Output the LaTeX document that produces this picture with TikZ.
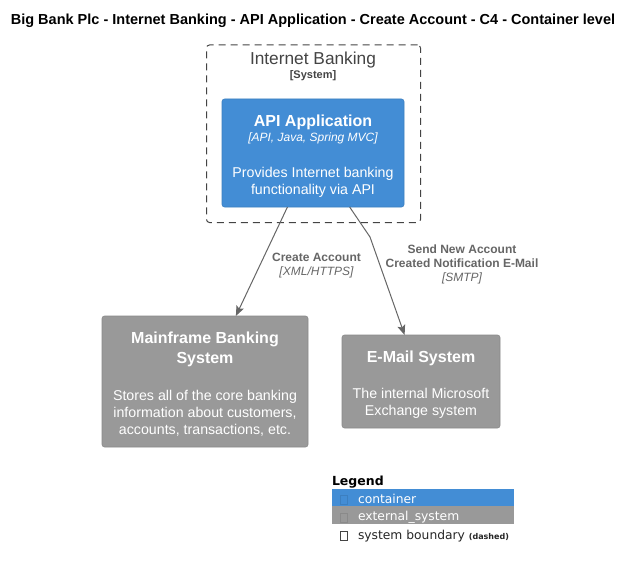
\documentclass[tikz,border=0pt]{standalone}
\usepackage{fontspec}
\setmainfont{Liberation Sans}
\newfontfamily\dejavu{DejaVu Sans}
\usetikzlibrary{arrows.meta}
\definecolor{cblue}{HTML}{438DD5}
\definecolor{cblueb}{HTML}{3C7FC0}
\definecolor{cgray}{HTML}{999999}
\definecolor{cgrayb}{HTML}{8A8A8A}
\definecolor{lgray}{HTML}{666666}
\definecolor{bgray}{HTML}{444444}
\begin{document}
\begin{tikzpicture}[x=1pt,y=-1pt,
  every node/.style={inner sep=0pt, outer sep=0pt},
  contbox/.style={rectangle, rounded corners=2.5pt, fill=cblue, draw=cblueb, line width=0.6pt},
  extbox/.style={rectangle, rounded corners=2.5pt, fill=cgray, draw=cgrayb, line width=0.6pt},
  bound/.style={draw=bgray, line width=1pt, dash pattern=on 7pt off 5pt, rounded corners=3pt},
  boxtitle/.style={anchor=base, text=white, font=\bfseries\fontsize{16pt}{20pt}\selectfont},
  boxtech/.style={anchor=base, text=white, font=\itshape\fontsize{12pt}{14pt}\selectfont},
  boxdesc/.style={anchor=base, text=white, font=\fontsize{14.2pt}{17pt}\selectfont},
  rellbl/.style={anchor=base, text=lgray, font=\bfseries\fontsize{12pt}{14pt}\selectfont},
  reltech/.style={anchor=base, text=lgray, font=\itshape\fontsize{12pt}{14pt}\selectfont},
  conn/.style={draw=lgray, line width=1pt, -{Stealth[length=10pt,width=8pt,inset=2pt]}},
  legtxt/.style={anchor=base west, font=\dejavu\fontsize{12.3pt}{14pt}\selectfont},
  tofu/.style={draw, line width=0.6pt}
]
\useasboundingbox[fill=white] (0,0) rectangle (634,567);

% title
\node[anchor=base, font=\bfseries\fontsize{14.5pt}{16pt}\selectfont] (title) at (313,24.5)
  {Big Bank Plc - Internet Banking - API Application - Create Account - C4 - Container level};

% boundary
\node[bound, minimum width=214pt, minimum height=177.5pt] (bnd) at (313.5,133.75) {};
\node[anchor=base, text=bgray, font=\fontsize{17.3pt}{20pt}\selectfont] (bndT) at (313,64.5) {Internet Banking};
\node[anchor=base, text=bgray, font=\bfseries\fontsize{11pt}{13pt}\selectfont] (bndS) at (313,79) {[System]};

% API application
\node[contbox, minimum width=182pt, minimum height=108pt] (api) at (313,153) {};
\node[boxtitle] (apiT) at (313,126) {API Application};
\node[boxtech] (apiTech) at (313,142) {[API, Java, Spring MVC]};
\node[boxdesc] (apiD1) at (313,177.5) {Provides Internet banking};
\node[boxdesc] (apiD2) at (313,194.5) {functionality via API};

% Mainframe
\node[extbox, minimum width=206pt, minimum height=131pt] (main) at (205,381.5) {};
\node[boxtitle] (mainT1) at (205,343.5) {Mainframe Banking};
\node[boxtitle] (mainT2) at (205,363.5) {System};
\node[boxdesc] (mainD1) at (205,400) {Stores all of the core banking};
\node[boxdesc] (mainD2) at (205,417) {information about customers,};
\node[boxdesc] (mainD3) at (205,434) {accounts, transactions, etc.};

% Email
\node[extbox, minimum width=158pt, minimum height=93pt] (email) at (421,381.5) {};
\node[boxtitle] (emailT) at (421,362) {E-Mail System};
\node[boxdesc] (emailD1) at (421,398.5) {The internal Microsoft};
\node[boxdesc] (emailD2) at (421,415.5) {Exchange system};

% connectors
\coordinate (bend) at (370,237);
\draw[conn] (api) -- (main);
\draw[conn] (api) -- (bend) -- (email);

\node[rellbl] (r1a) at (316.5,261) {Create Account};
\node[reltech] (r1b) at (316.5,275) {[XML/HTTPS]};
\node[rellbl] (r2a) at (462,253) {Send New Account};
\node[rellbl] (r2b) at (462,267.5) {Created Notification E-Mail};
\node[reltech] (r2c) at (462,281.5) {[SMTP]};

% legend
\node[anchor=base west, font=\dejavu\bfseries\fontsize{12.5pt}{14pt}\selectfont] (legT) at (332,485) {Legend};
\node[rectangle, fill=cblue, minimum width=182pt, minimum height=17pt, anchor=north west] (legC) at (332,489) {};
\node[rectangle, fill=cgray, minimum width=182pt, minimum height=17.5pt, anchor=north west] (legE) at (332,506) {};
\draw[tofu, draw=cblueb] (340,495) rectangle (347,504);
\draw[tofu, draw=cgrayb] (340,513) rectangle (347,522);
\draw[tofu, draw=bgray] (340,531) rectangle (347,540);
\node[legtxt, text=white] (legCt) at (358,503) {container};
\node[legtxt, text=white] (legEt) at (358,520.5) {external\_system};
\node[legtxt, text=black!85] (legBt) at (358,539) {system boundary {\bfseries\fontsize{8pt}{9pt}\selectfont (dashed)}};
\end{tikzpicture}
\end{document}
